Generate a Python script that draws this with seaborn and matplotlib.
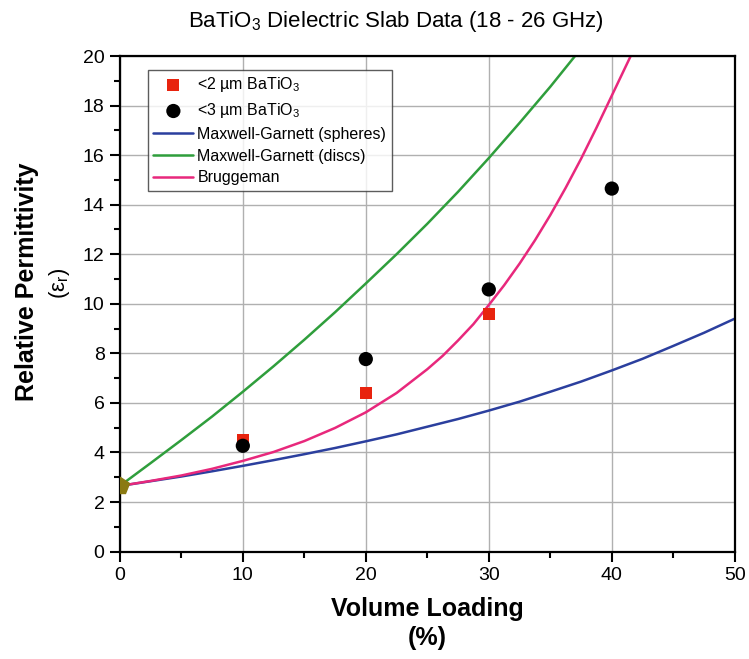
import numpy as np
import pandas as pd
import seaborn as sns
import matplotlib.pyplot as plt
from matplotlib.ticker import MultipleLocator

# measured points (volume loading %, permittivity)
sq_x = [10, 20, 30]
sq_y = [4.50, 6.40, 9.60]
circ_x = [10, 20, 30, 40]
circ_y = [4.27, 7.77, 10.58, 14.65]
host_x = [0]
host_y = [2.65]

# model curves
mg_sph_x = [0, 2.5, 5, 7.5, 10, 12.5, 15, 17.5, 20, 22.5, 25, 27.5, 30, 32.5, 35, 37.5, 40, 42.5, 45, 47.5, 50]
mg_sph_y = [2.65, 2.84, 3.03, 3.24, 3.46, 3.69, 3.93, 4.18, 4.45, 4.73, 5.04, 5.35, 5.69, 6.05, 6.45, 6.86, 7.31, 7.78, 8.30, 8.83, 9.40]
mg_disc_x = [0, 2.5, 5, 7.5, 10, 12.5, 15, 17.5, 20, 22.5, 25, 27.5, 30, 32.5, 35, 37.5]
mg_disc_y = [2.65, 3.57, 4.50, 5.45, 6.45, 7.48, 8.55, 9.66, 10.82, 12.00, 13.23, 14.52, 15.88, 17.30, 18.76, 20.30]
brug_x = [0, 2.5, 5, 7.5, 10, 12.5, 15, 17.5, 20, 22.5, 25, 26.25, 27.5, 28.75, 30, 31.25,
          32.5, 33.75, 35, 36.25, 37.5, 38.75, 40, 41.25, 42.5]
brug_y = [2.65, 2.85, 3.07, 3.34, 3.66, 4.02, 4.46, 4.99, 5.62, 6.40, 7.36, 7.90, 8.52, 9.18,
          9.95, 10.75, 11.62, 12.56, 13.58, 14.68, 15.85, 17.10, 18.40, 19.70, 21.00]

sns.set_style("white")
plt.rcParams["font.family"] = ["Liberation Sans", "DejaVu Sans"]
plt.rcParams["mathtext.fontset"] = "custom"
plt.rcParams["mathtext.rm"] = "Liberation Sans"
plt.rcParams["text.color"] = "black"
plt.rcParams["xtick.color"] = "black"
plt.rcParams["ytick.color"] = "black"

fig = plt.figure(figsize=(7.49, 6.59), dpi=100)
ax = fig.add_axes([0.160, 0.163, 0.821, 0.752])

ax.grid(True, which="major", color="#b0b0b0", linewidth=1.0)
ax.set_axisbelow(True)

sns.lineplot(x=mg_sph_x, y=mg_sph_y, color="#2b3f9e", linewidth=1.8, ax=ax,
             label="Maxwell-Garnett (spheres)")
sns.lineplot(x=mg_disc_x, y=mg_disc_y, color="#2f9e3c", linewidth=1.8, ax=ax,
             label="Maxwell-Garnett (discs)")
sns.lineplot(x=brug_x, y=brug_y, color="#e8287c", linewidth=1.8, ax=ax,
             label="Bruggeman")
sns.scatterplot(x=sq_x, y=sq_y, marker="s", s=75, color="#e8230e", edgecolor="none",
                ax=ax, label="<2 µm BaTiO$_\\mathregular{3}$", zorder=5)
sns.scatterplot(x=circ_x, y=circ_y, marker="o", s=105, color="black", edgecolor="none",
                ax=ax, label="<3 µm BaTiO$_\\mathregular{3}$", zorder=5)
ax.plot(host_x, host_y, marker="p", markersize=13, color="#8a7a12", linestyle="none",
        zorder=6, clip_on=True)

ax.set_xlim(0, 50)
ax.set_ylim(0, 20)
ax.xaxis.set_major_locator(MultipleLocator(10))
ax.xaxis.set_minor_locator(MultipleLocator(5))
ax.yaxis.set_major_locator(MultipleLocator(2))
ax.yaxis.set_minor_locator(MultipleLocator(1))
ax.tick_params(which="major", direction="out", length=7, width=1.5, labelsize=14,
               bottom=True, left=True, pad=4, colors="black")
ax.tick_params(which="minor", direction="out", length=4, width=1.5, bottom=True, left=True,
               colors="black")
for sp in ax.spines.values():
    sp.set_color("black")
    sp.set_linewidth(1.6)
ax.set_xlabel("")
ax.set_ylabel("")

h, l = ax.get_legend_handles_labels()
order = [3, 4, 0, 1, 2]
leg = ax.legend([h[i] for i in order], [l[i] for i in order], loc="upper left",
                bbox_to_anchor=(0.0455, 0.972), borderaxespad=0, fontsize=11.5,
                frameon=True, fancybox=False, edgecolor="#333333", handlelength=2.5,
                handletextpad=0.25, borderpad=0.35, labelspacing=0.42)
leg.get_frame().set_linewidth(1.0)
for t in leg.get_texts():
    t.set_color("black")

fig.text(0.529, 0.968, "BaTiO$_\\mathregular{3}$ Dielectric Slab Data (18 - 26 GHz)",
         ha="center", va="center", fontsize=16)
fig.text(0.036, 0.573, "Relative Permittivity", rotation=90, ha="center", va="center",
         fontsize=18, fontweight="bold")
fig.text(0.080, 0.570, "(ε$_\\mathregular{r}$)", rotation=90, ha="center", va="center",
         fontsize=16)
fig.text(0.570, 0.076, "Volume Loading", ha="center", va="center", fontsize=18,
         fontweight="bold")
fig.text(0.570, 0.032, "(%)", ha="center", va="center", fontsize=18, fontweight="bold")

fig.savefig("out.png", dpi=100)
